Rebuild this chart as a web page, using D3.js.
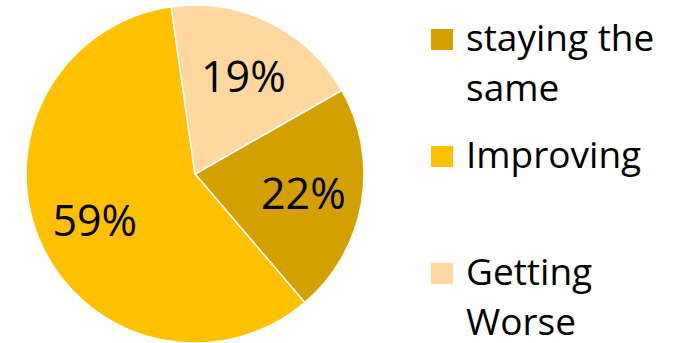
<!DOCTYPE html>
<html>
<head>
<meta charset="utf-8">
<script src="https://cdn.jsdelivr.net/npm/d3@7"></script>
<style>
  html, body { margin: 0; padding: 0; background: #fff; }
  svg { display: block; }
</style>
</head>
<body>
<svg id="chart" width="684" height="343"></svg>
<script>
// Survey answers, shares in percent
const categories = ["staying the same", "Improving", "Getting Worse"];
const values = [22, 59, 19];
const legendLines = [["staying the", "same"], ["Improving"], ["Getting", "Worse"]];
const colors = ["#D4A000", "#FFC000", "#FFD79F"];

const svg = d3.select("#chart");
const cx = 195, cy = 174, radius = 169;
const startDeg = 60.3;

const pie = d3.pie()
  .sort(null)
  .value(d => d)
  .startAngle(startDeg * Math.PI / 180)
  .endAngle((startDeg + 360) * Math.PI / 180);

const arcs = pie(values);
const arc = d3.arc().innerRadius(0).outerRadius(radius);
const labelArc = d3.arc().innerRadius(110).outerRadius(110);

const g = svg.append("g").attr("transform", `translate(${cx},${cy})`);

g.selectAll("path.slice")
  .data(arcs)
  .join("path")
  .attr("class", "slice")
  .attr("d", arc)
  .attr("fill", (d, i) => colors[i])
  .attr("stroke", "#fff")
  .attr("stroke-width", 1.5)
  .attr("stroke-linejoin", "round");

g.selectAll("text.pct")
  .data(arcs)
  .join("text")
  .attr("class", "pct")
  .attr("transform", d => `translate(${labelArc.centroid(d)})`)
  .attr("text-anchor", "middle")
  .attr("dy", "0.38em")
  .attr("font-family", "'Open Sans', sans-serif")
  .attr("font-size", 43)
  .attr("fill", "#000")
  .text(d => d3.format(".0%")(d.data / 100));

// Legend
const legendY = [29, 146, 263];
const legend = svg.append("g");
categories.forEach((c, i) => {
  const item = legend.append("g").attr("transform", `translate(431,${legendY[i]})`);
  item.append("rect")
    .attr("width", 22).attr("height", 21)
    .attr("fill", colors[i]);
  const t = item.append("text")
    .attr("font-family", "'Open Sans', sans-serif")
    .attr("font-size", 37)
    .attr("fill", "#000");
  legendLines[i].forEach((line, j) => {
    t.append("tspan")
      .attr("x", 35)
      .attr("y", 22 + j * 50)
      .text(line);
  });
});
</script>
</body>
</html>
